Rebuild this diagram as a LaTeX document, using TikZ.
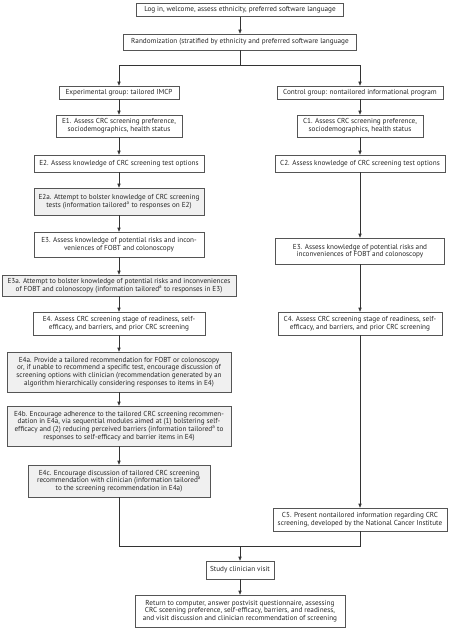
\documentclass[tikz,border=0pt]{standalone}
\usepackage{fontspec}
\setmainfont{PT Sans}
\usetikzlibrary{arrows.meta}
\definecolor{boxline}{HTML}{555555}
\definecolor{conn}{HTML}{333333}
\definecolor{shade}{HTML}{F0F0F0}
\begin{document}
\begin{tikzpicture}[x=1pt,y=-1pt,
  box/.style={draw=boxline, line width=0.6pt, fill=white, inner sep=0pt, align=center,
    font=\fontsize{7.2}{7.6}\selectfont, text=black!85},
  gbox/.style={box, fill=shade},
  arr/.style={draw=conn, line width=0.6pt, -{Triangle[length=4pt,width=3.2pt]}},
  ln/.style={draw=conn, line width=0.6pt}]
\useasboundingbox (0,0) rectangle (450,628);
% centre column
\node[box, minimum width=207pt, minimum height=13.5pt] (login) at (240,9.75) {Log in, welcome, assess ethnicity, preferred software language};
\node[box, minimum width=233pt, minimum height=16pt] (rand) at (240,42) {Randomization (stratified by ethnicity and preferred software language};
\coordinate (split) at (240,65);
% left column
\node[box, minimum width=120pt, minimum height=13pt] (exp) at (119,92.5) {Experimental group: tailored IMCP};
\node[box, minimum width=126pt, minimum height=22pt] (E1) at (119,126) {E1. Assess CRC screening preference,\\ sociodemographics, health status};
\node[box, minimum width=170pt, minimum height=17pt] (E2) at (119,163.5) {E2. Assess knowledge of CRC screening test options};
\node[gbox, minimum width=170pt, minimum height=27pt] (E2a) at (119,201.5) {E2a. Attempt to bolster knowledge of CRC screening\\ tests (information tailored\textsuperscript{a} to responses on E2)};
\node[box, minimum width=170pt, minimum height=25pt] (E3) at (119,244.5) {E3. Assess knowledge of potential risks and incon-\\veniences of FOBT and colonoscopy};
\node[gbox, minimum width=234pt, minimum height=21pt] (E3a) at (119,285.5) {E3a. Attempt to bolster knowledge of potential risks and inconveniences\\ of FOBT and colonoscopy (information tailored\textsuperscript{a} to responses in E3)};
\node[box, minimum width=172pt, minimum height=23pt] (E4) at (119,323.5) {E4. Assess CRC screening stage of readiness, self-\\efficacy, and barriers, and prior CRC screening};
\node[gbox, minimum width=224pt, minimum height=40pt] (E4a) at (119,372) {E4a. Provide a tailored recommendation for FOBT or colonoscopy\\ or, if unable to recommend a specific test, encourage discussion of\\ screening options with clinician (recommendation generated by an\\ algorithm hierarchically considering responses to items in E4)};
\node[gbox, minimum width=224pt, minimum height=40pt] (E4b) at (119,426) {E4b. Encourage adherence to the tailored CRC screening recommen-\\dation in E4a, via sequential modules aimed at (1) bolstering self-\\efficacy and (2) reducing perceived barriers (information tailored\textsuperscript{a} to\\ responses to self-efficacy and barrier items in E4)};
\node[gbox, minimum width=182pt, minimum height=32pt] (E4c) at (119,481) {E4c. Encourage discussion of tailored CRC screening\\ recommendation with clinician (information tailored\textsuperscript{a}\\ to the screening recommendation in E4a)};
% right column
\node[box, minimum width=166pt, minimum height=13pt] (ctrl) at (360,92.5) {Control group: nontailored informational program};
\node[box, minimum width=126pt, minimum height=22pt] (C1) at (360,126) {C1. Assess CRC screening preference,\\ sociodemographics, health status};
\node[box, minimum width=170pt, minimum height=17pt] (C2) at (360,163.5) {C2. Assess knowledge of CRC screening test options};
\node[box, minimum width=169pt, minimum height=26pt] (C3) at (360,251) {E3. Assess knowledge of potential risks and\\ inconveniences of FOBT and colonoscopy};
\node[box, minimum width=164pt, minimum height=23pt] (C4) at (360,323.5) {C4. Assess CRC screening stage of readiness, self-\\efficacy, and barriers, and prior CRC screening};
\node[box, minimum width=174pt, minimum height=23pt] (C5) at (360,519.5) {C5. Present nontailored information regarding CRC\\ screening, developed by the National Cancer Institute};
% bottom
\coordinate (merge) at (240,546);
\node[box, minimum width=68pt, minimum height=18pt] (study) at (240,570) {Study clinician visit};
\node[box, minimum width=210pt, minimum height=32pt] (final) at (240,611) {Return to computer, answer postvisit questionnaire, assessing\\ CRC sceening preference, self-efficacy, barriers, and readiness,\\ and visit discussion and clinician recommendation of screening};
% connectors
\draw[arr] (login) -- (rand);
\draw[ln] (rand) -- (split);
\draw[arr] (split) -| (exp);
\draw[arr] (split) -| (ctrl);
\draw[arr] (exp) -- (E1);
\draw[arr] (E1) -- (E2);
\draw[arr] (E2) -- (E2a);
\draw[arr] (E2a) -- (E3);
\draw[arr] (E3) -- (E3a);
\draw[arr] (E3a) -- (E4);
\draw[arr] (E4) -- (E4a);
\draw[arr] (E4a) -- (E4b);
\draw[arr] (E4b) -- (E4c);
\draw[arr] (ctrl) -- (C1);
\draw[arr] (C1) -- (C2);
\draw[arr] (C2) -- (C3);
\draw[arr] (C3) -- (C4);
\draw[arr] (C4) -- (C5);
\draw[ln] (E4c) |- (merge);
\draw[ln] (C5) |- (merge);
\draw[arr] (merge) -- (study);
\draw[arr] (study) -- (final);
\end{tikzpicture}
\end{document}
